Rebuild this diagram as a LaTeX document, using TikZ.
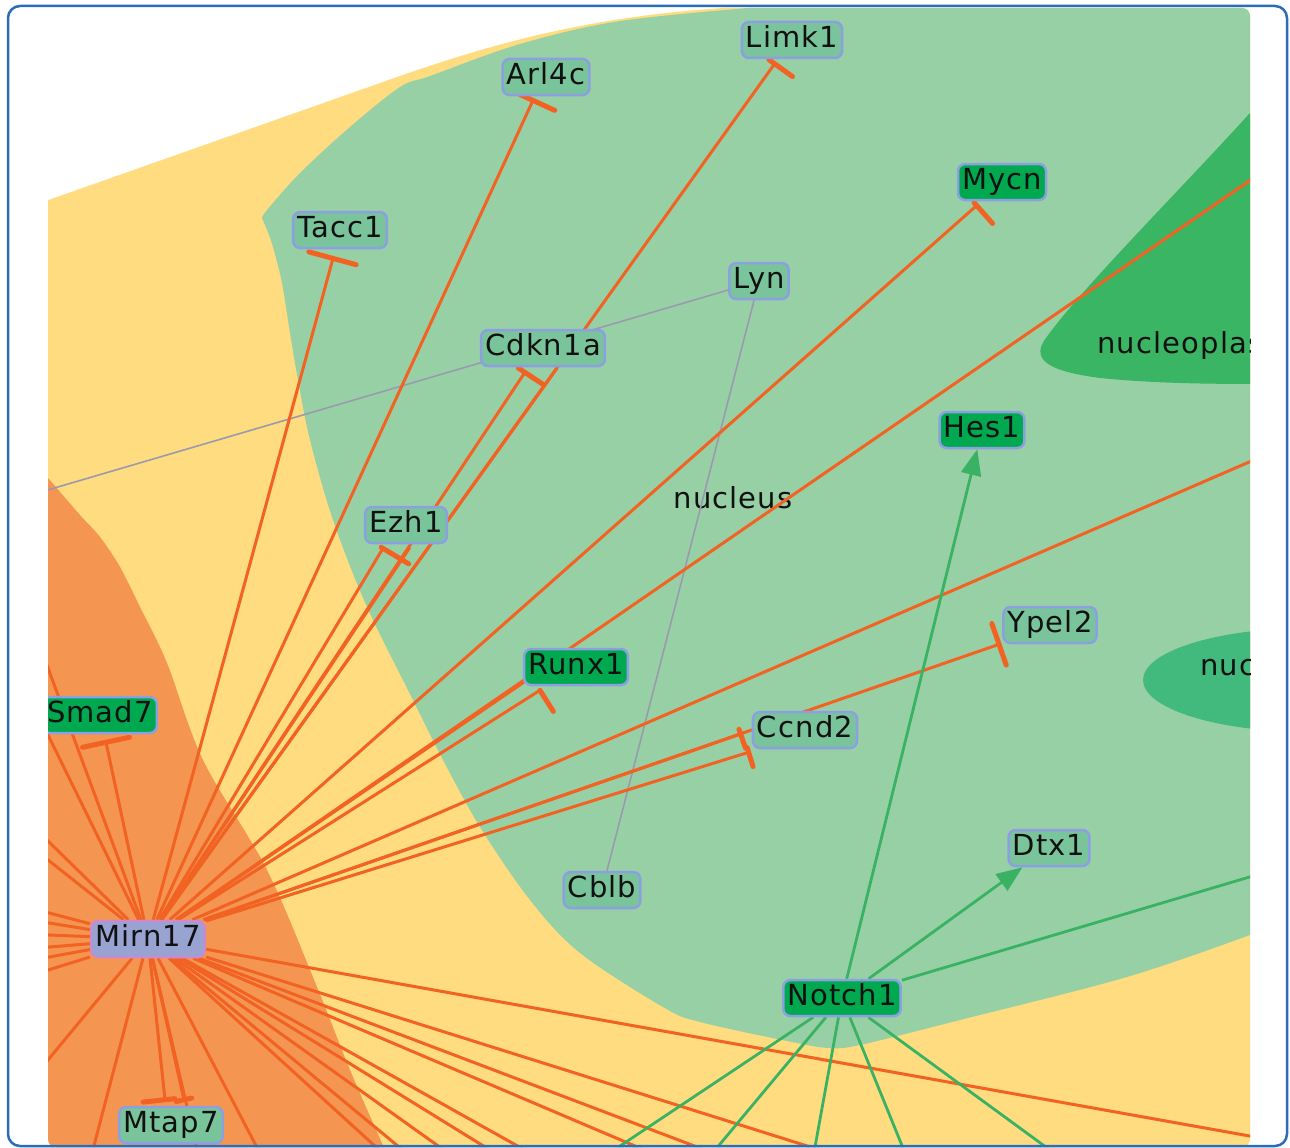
\documentclass[tikz,border=0pt]{standalone}
\usepackage{fontspec}
\newfontfamily\lab[LetterSpace=4]{DejaVu Sans}
\usetikzlibrary{arrows.meta,calc,decorations.markings}
\pgfdeclarelayer{bg}
\pgfdeclarelayer{edges}
\pgfsetlayers{bg,edges,main}
\definecolor{framec}{HTML}{2A6EBB}
\definecolor{cyto}{HTML}{FEDC7F}
\definecolor{nucl}{HTML}{98D0A6}
\definecolor{extra}{HTML}{F49652}
\definecolor{nplasm}{HTML}{3AB564}
\definecolor{nucc}{HTML}{42B97D}
\definecolor{oedge}{HTML}{F26223}
\definecolor{gedge}{HTML}{3AB264}
\definecolor{gredge}{HTML}{9A9AAE}
\definecolor{nborder}{HTML}{8CA0E1}
\definecolor{pale}{HTML}{7AC49C}
\definecolor{dark}{HTML}{00A850}
\definecolor{mirf}{HTML}{98A3D2}
\definecolor{mirb}{HTML}{C88AD0}
\definecolor{txt}{HTML}{111111}
\begin{document}
\begin{tikzpicture}[x=1pt,y=-1pt,
  gn/.style={draw=nborder, line width=2.5pt, rounded corners=7pt, fill=pale,
    font=\lab\fontsize{29}{31}\selectfont, text=txt, minimum height=36pt,
    inner xsep=4pt, inner ysep=0pt, text height=21pt, text depth=5.5pt},
  dk/.style={gn, fill=dark},
  mir/.style={gn, fill=mirf, draw=mirb},
  reglab/.style={font=\lab\fontsize{29}{31}\selectfont, text=txt, inner sep=0pt},
  oe/.style={draw=oedge, line width=3pt},
  ge/.style={draw=gedge, line width=2.8pt},
  gr/.style={draw=gredge, line width=1.6pt},
  act/.style={ge, -{Triangle[length=26pt,width=20pt]}},
  tbar/.style 2 args={postaction={decorate, decoration={markings,
    mark=at position 0.9999 with {\draw[oedge, line width=5pt, line cap=round] (0pt,#1pt) -- (0pt,-#2pt);}}}}
]
\useasboundingbox (0,0) rectangle (1290,1148);

% ---------- regions ----------
\begin{pgfonlayer}{bg}
\fill[white] (0,0) rectangle (1290,1148);
\begin{scope}
\clip[rounded corners=8pt] (48,8) rectangle (1250,1147);
\fill[cyto] (40,203) -- (400,76) .. controls (520,34) and (620,12) .. (760,6) -- (1262,0) -- (1262,1160) -- (40,1160) -- cycle;
\fill[extra] (40,470) -- plot[smooth,tension=0.55] coordinates {(48,478) (80,515) (100,537) (120,567) (140,607) (167,663) (203,760) (267,870) (317,987) (350,1070) (385,1150)} -- (385,1160) -- (40,1160) -- cycle;
\fill[nucl] plot[smooth,tension=0.55] coordinates {(262,218) (267,210) (300,173) (350,127) (400,87) (430,76) (520,44) (620,21) (760,7)} -- (1262,0) -- (1262,935) -- (1250,935)
  -- plot[smooth,tension=0.55] coordinates {(1250,935) (1127,977) (960,1020) (860,1045) (830,1048) (797,1043) (700,1022) (663,1007) (580,953) (530,900) (480,827) (443,760) (413,700) (367,607) (333,520) (310,440) (298,380) (290,333) (282,283) (273,247) (267,230) (262,218)} -- cycle;
\fill[nplasm] (1262,100) -- (1250,113) .. controls (1180,190) and (1080,290) .. (1046,338) .. controls (1028,362) and (1055,372) .. (1100,378) .. controls (1150,383) and (1200,384) .. (1262,384) -- cycle;
\fill[nucc] (1310,680) ellipse [x radius=167, y radius=52];
\node[reglab, anchor=west] (lnp) at (1097,345) {nucleoplas};
\node[reglab, anchor=west] (lnuc) at (1200,668) {nuc};
\node[reglab] (lnucleus) at (733,498) {nucleus};
\end{scope}
\end{pgfonlayer}

% ---------- nodes ----------
\begin{scope}
\clip[rounded corners=8pt] (48,8) rectangle (1250,1147);
\node[gn] (Limk1) at (792,40) {Limk1};
\node[gn] (Arl4c) at (546,77) {Arl4c};
\node[gn] (Tacc1) at (340,230) {Tacc1};
\node[dk] (Mycn) at (1002,182) {Mycn};
\node[gn] (Lyn) at (759,281) {Lyn};
\node[gn] (Cdkn1a) at (543,348) {Cdkn1a};
\node[dk] (Hes1) at (982,430) {Hes1};
\node[gn] (Ezh1) at (406,525) {Ezh1};
\node[dk] (Runx1) at (576,667) {Runx1};
\node[gn] (Ypel2) at (1050,625) {Ypel2};
\node[dk] (Smad7) at (100,715) {Smad7};
\node[gn] (Ccnd2) at (805,730) {Ccnd2};
\node[gn] (Dtx1) at (1049,848) {Dtx1};
\node[gn] (Cblb) at (602,890) {Cblb};
\node[mir] (Mirn17) at (148,939) {Mirn17};
\node[dk] (Notch1) at (842,998) {Notch1};
\node[gn] (Mtap7) at (171,1125) {Mtap7};
\end{scope}

% ---------- edges ----------
\begin{pgfonlayer}{edges}
\begin{scope}
\clip[rounded corners=8pt] (48,8) rectangle (1250,1147);
\coordinate (lynend) at (0,504);
\draw[gr] (Lyn) -- (lynend);
\draw[gr] (Lyn) -- (Cblb);
% inhibitions from Mirn17
\draw[oe, tbar={25}{24}] (Mirn17) -- ($(Tacc1.south)+(-7,9)$);
\draw[oe, tbar={15}{24}] (Mirn17) -- ($(Arl4c.south)+(-13,4)$);
\draw[oe, tbar={7}{22}] (Mirn17) -- ($(Limk1.south)+(-17,4)$);
\draw[oe, tbar={4}{24}] (Mirn17) -- ($(Mycn.south)+(-25,4)$);
\draw[oe, tbar={8}{22}] (Mirn17) -- ($(Cdkn1a.south)+(-18,5)$);
\draw[oe] (Mirn17) -- ($(Cdkn1a.south)+(14,1)$);
\draw[oe, tbar={2}{30}] (Mirn17) -- ($(Ezh1.south)+(-23,4)$);
\draw[oe] (Mirn17) -- ($(Ezh1.south)+(4,3)$);
\draw[oe] (Mirn17) -- ($(Runx1.south west)+(1,-4)$);
\draw[oe, tbar={0}{25}] (Mirn17) -- ($(Runx1.south)+(-36,4)$);
\draw[oe, tbar={22}{22}] (Mirn17) -- ($(Ypel2.south west)+(-3,0)$);
\draw[oe, tbar={5}{15}] (Mirn17) -- ($(Ccnd2.west)+(-11,4)$);
\draw[oe, tbar={5}{15}] (Mirn17) -- ($(Ccnd2.south west)+(-3,3)$);
\draw[oe, tbar={24}{24}] (Mirn17) -- ($(Smad7.south)+(6,8)$);
\draw[oe, tbar={10}{22}] (Mirn17) -- ($(Mtap7.north)+(-6,-6)$);
\draw[oe, tbar={8}{8}] (Mirn17) -- ($(Mtap7.north)+(13,-6)$);
% Mirn17 edges to nodes outside the view
\foreach \i/\x/\y in {1/0/637, 2/0/538, 3/0/794, 4/0/822, 5/0/900, 6/0/915, 7/0/933, 8/0/951, 9/0/966, 10/0/985, 11/0/1118, 12/85/1180, 13/204/1180, 14/274/1180, 15/434/1200, 16/463/1200, 17/514/1200, 18/571/1200, 19/614/1200, 20/762/1200, 21/837/1200, 22/979/1200, 23/1300/1145, 24/1300/146, 25/1300/440} {
  \coordinate (m\i) at (\x,\y);
  \draw[oe] (Mirn17) -- (m\i);
}
% Notch1
\draw[act] (Notch1) -- (Hes1);
\draw[act] (Notch1) -- (Dtx1);
\foreach \i/\x/\y in {1/1300/862, 2/569/1180, 3/690/1180, 4/809/1180, 5/916/1180, 6/1091/1180} {
  \coordinate (n\i) at (\x,\y);
  \draw[ge] (Notch1) -- (n\i);
}
\end{scope}
\end{pgfonlayer}

% ---------- frame ----------
\draw[framec, line width=2.5pt, rounded corners=12pt] (8,6) rectangle (1287,1146);
\end{tikzpicture}
\end{document}
